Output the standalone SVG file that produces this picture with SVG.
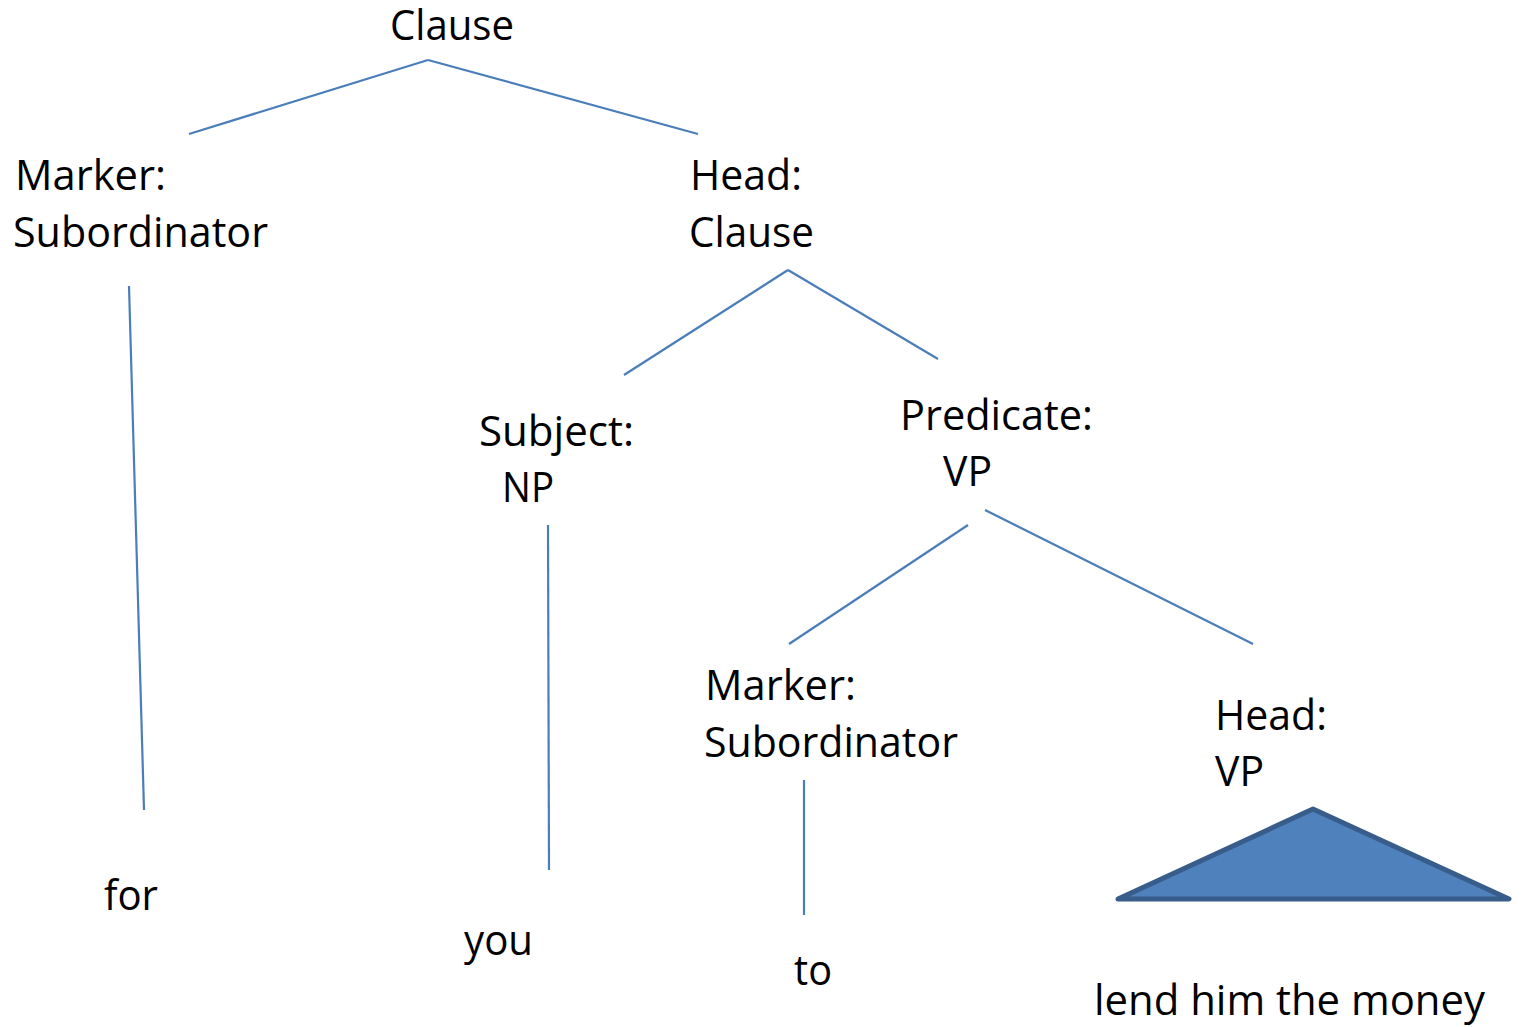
<svg xmlns="http://www.w3.org/2000/svg" width="1522" height="1027" viewBox="0 0 1522 1027">
<style>
text{font-family:"Open Sans","Liberation Sans",sans-serif;font-size:42px;fill:#000}
.c line{stroke:#4A7EBB;stroke-width:2.2;fill:none}
</style>
<rect width="1522" height="1027" fill="#fff"/>
<g class="c" id="connectors">
<line x1="189" y1="134" x2="428" y2="60"/>
<line x1="428" y1="60" x2="698" y2="134"/>
<line x1="129" y1="286" x2="144" y2="810"/>
<line x1="624" y1="375" x2="788" y2="270"/>
<line x1="788" y1="270" x2="938" y2="359"/>
<line x1="548" y1="525" x2="549" y2="870"/>
<line x1="789" y1="644" x2="968" y2="525"/>
<line x1="985" y1="510" x2="1253" y2="644"/>
<line x1="804" y1="780" x2="804" y2="915"/>
</g>
<g id="n-root"><text x="390" y="40" textLength="124" lengthAdjust="spacingAndGlyphs">Clause</text></g>
<g id="n-marker1"><text x="15" y="190" textLength="151" lengthAdjust="spacingAndGlyphs">Marker:</text><text x="13" y="247" textLength="255" lengthAdjust="spacingAndGlyphs">Subordinator</text></g>
<g id="n-head1"><text x="690" y="190" textLength="112" lengthAdjust="spacingAndGlyphs">Head:</text><text x="689" y="247" textLength="125" lengthAdjust="spacingAndGlyphs">Clause</text></g>
<g id="n-subject"><text x="479" y="446" textLength="155" lengthAdjust="spacingAndGlyphs">Subject:</text><text x="502" y="502" textLength="52" lengthAdjust="spacingAndGlyphs">NP</text></g>
<g id="n-predicate"><text x="900" y="430" textLength="193" lengthAdjust="spacingAndGlyphs">Predicate:</text><text x="943" y="486" textLength="49" lengthAdjust="spacingAndGlyphs">VP</text></g>
<g id="n-marker2"><text x="705" y="700" textLength="151" lengthAdjust="spacingAndGlyphs">Marker:</text><text x="704" y="757" textLength="254" lengthAdjust="spacingAndGlyphs">Subordinator</text></g>
<g id="n-head2"><text x="1215" y="730" textLength="112" lengthAdjust="spacingAndGlyphs">Head:</text><text x="1215" y="786" textLength="49" lengthAdjust="spacingAndGlyphs">VP</text></g>
<g id="n-triangle"><polygon points="1118,899 1313,809 1509,899" fill="#4F81BD" stroke="#385D8A" stroke-width="5" stroke-linejoin="round"/></g>
<g id="n-for"><text x="104" y="910" textLength="54" lengthAdjust="spacingAndGlyphs">for</text></g>
<g id="n-you"><text x="464" y="955" textLength="69" lengthAdjust="spacingAndGlyphs">you</text></g>
<g id="n-to"><text x="794" y="985" textLength="38" lengthAdjust="spacingAndGlyphs">to</text></g>
<g id="n-lend"><text x="1094" y="1015" textLength="391" lengthAdjust="spacingAndGlyphs">lend him the money</text></g>
</svg>
